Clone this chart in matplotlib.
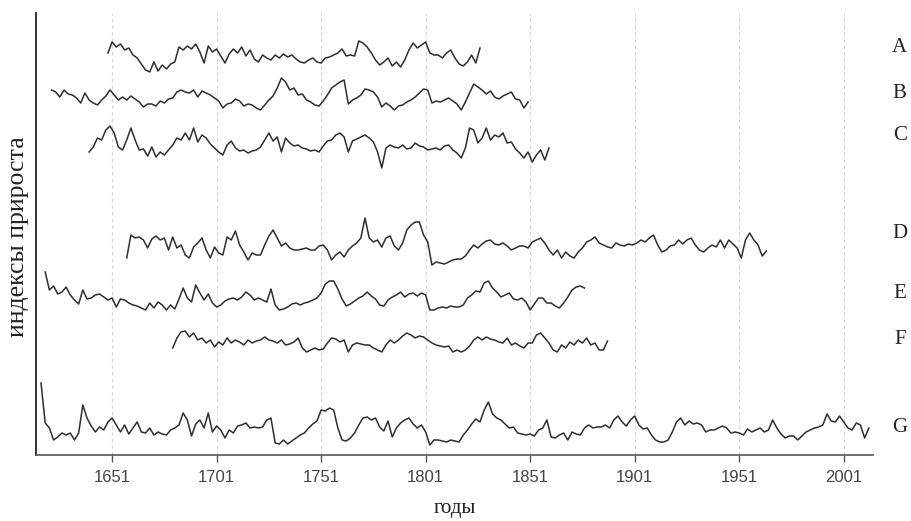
import numpy as np
import matplotlib.pyplot as plt

# ring-width indices (%), one value every second year
a_start = 1649
a_idx = [104, 115, 110, 113, 107, 109, 102, 99, 93, 87, 85, 95, 86, 92, 88, 93, 95, 110,
         107, 111, 108, 113, 105, 94, 111, 105, 108, 101, 94, 103, 108, 104, 110, 101, 107,
         98, 95, 102, 99, 97, 102, 99, 103, 100, 102, 98, 95, 94, 97, 99, 95, 94, 99, 100,
         102, 104, 108, 101, 102, 101, 116, 114, 110, 104, 97, 92, 95, 99, 91, 95, 90, 97,
         107, 114, 109, 112, 115, 104, 102, 102, 99, 104, 107, 99, 93, 91, 95, 102, 94, 109]

b_start = 1622
b_idx = [107, 105, 100, 107, 103, 102, 99, 94, 104, 97, 94, 92, 97, 101, 107, 102, 97, 100,
         97, 101, 98, 95, 90, 93, 93, 91, 96, 94, 98, 99, 105, 107, 105, 104, 107, 100, 106,
         104, 102, 99, 96, 89, 93, 94, 98, 96, 91, 93, 92, 89, 87, 92, 97, 101, 109, 119, 115,
         107, 109, 102, 103, 97, 95, 92, 91, 96, 102, 109, 112, 115, 117, 93, 97, 99, 102, 108,
         107, 105, 100, 90, 94, 91, 87, 91, 92, 95, 97, 100, 104, 108, 107, 94, 96, 95, 97, 99,
         96, 93, 87, 95, 104, 113, 110, 107, 103, 106, 100, 98, 101, 103, 105, 98, 97, 89, 95]

c_start = 1640
c_idx = [93, 98, 107, 105, 115, 119, 112, 98, 95, 105, 117, 105, 95, 96, 89, 98, 88, 93, 90,
         95, 100, 107, 105, 112, 105, 117, 103, 110, 107, 101, 97, 93, 90, 100, 104, 97, 94,
         95, 92, 94, 95, 98, 105, 112, 104, 108, 93, 107, 102, 99, 100, 97, 96, 94, 95, 93, 99,
         104, 105, 110, 112, 108, 93, 104, 106, 108, 110, 107, 103, 93, 77, 97, 100, 98, 97,
         100, 96, 97, 102, 99, 98, 95, 96, 97, 95, 99, 100, 95, 92, 87, 97, 117, 115, 102, 107,
         117, 105, 110, 108, 112, 102, 103, 96, 92, 87, 93, 83, 90, 95, 85, 97]

d_start = 1658
d_idx = [87, 110, 107, 108, 105, 97, 106, 109, 105, 107, 95, 108, 97, 100, 90, 87, 98, 102,
         107, 95, 87, 98, 92, 90, 108, 105, 114, 100, 93, 85, 92, 90, 90, 100, 109, 115, 107,
         99, 102, 97, 95, 95, 96, 97, 95, 95, 99, 100, 95, 85, 90, 93, 88, 95, 99, 102, 107,
         127, 107, 103, 105, 98, 107, 109, 99, 95, 102, 115, 120, 123, 123, 110, 103, 80, 83,
         82, 81, 83, 85, 86, 86, 89, 95, 100, 97, 101, 104, 105, 101, 100, 102, 99, 95, 97, 99,
         99, 97, 103, 105, 107, 102, 95, 90, 95, 87, 93, 89, 87, 93, 97, 103, 105, 108, 102,
         100, 98, 97, 102, 100, 99, 101, 100, 102, 105, 103, 107, 110, 100, 93, 95, 99, 100,
         105, 101, 105, 107, 100, 95, 93, 97, 100, 98, 105, 97, 105, 101, 97, 87, 105, 112, 105,
         100, 89, 94]

e_start = 1619
e_idx = [126, 108, 112, 104, 106, 111, 103, 98, 94, 108, 99, 100, 103, 104, 101, 98, 100, 91,
         99, 98, 95, 93, 92, 90, 88, 95, 90, 96, 93, 88, 93, 89, 99, 110, 100, 96, 113, 105, 98,
         104, 95, 91, 93, 97, 99, 100, 98, 101, 106, 103, 98, 100, 98, 96, 109, 93, 88, 89, 91,
         94, 95, 93, 95, 96, 98, 100, 105, 114, 117, 117, 109, 99, 92, 94, 97, 100, 102, 106,
         102, 99, 93, 92, 98, 101, 103, 106, 101, 104, 105, 102, 105, 103, 88, 88, 90, 91, 90,
         92, 91, 91, 93, 100, 103, 107, 106, 115, 117, 110, 106, 101, 103, 105, 99, 98, 100, 96,
         88, 94, 100, 100, 95, 95, 92, 90, 95, 101, 108, 111, 112, 110]

f_start = 1680
f_idx = [95, 105, 111, 112, 106, 110, 103, 105, 100, 103, 96, 101, 98, 105, 100, 103, 101, 98,
         103, 100, 102, 103, 106, 103, 102, 100, 103, 98, 99, 101, 105, 95, 91, 93, 95, 93, 94,
         100, 105, 104, 101, 103, 91, 98, 100, 99, 98, 98, 95, 93, 91, 98, 103, 100, 103, 107,
         110, 108, 105, 107, 106, 103, 100, 98, 97, 96, 97, 91, 93, 91, 93, 97, 103, 106, 103,
         106, 104, 103, 101, 100, 105, 98, 100, 97, 95, 100, 100, 108, 110, 105, 100, 93, 91, 98,
         95, 101, 98, 103, 100, 105, 98, 100, 93, 93, 102]

g_start = 1617
g_idx = [145, 105, 100, 88, 91, 95, 93, 95, 88, 95, 123, 110, 102, 96, 101, 98, 106, 110, 103,
         96, 103, 94, 100, 106, 96, 95, 100, 93, 96, 94, 93, 98, 100, 103, 115, 108, 92, 104,
         108, 100, 115, 96, 102, 98, 90, 98, 95, 102, 103, 105, 100, 101, 100, 101, 108, 110, 85,
         84, 88, 84, 87, 90, 93, 95, 100, 104, 107, 118, 117, 120, 118, 100, 88, 87, 90, 95, 103,
         110, 111, 108, 110, 101, 97, 107, 91, 100, 105, 108, 110, 104, 100, 103, 96, 83, 88, 88,
         87, 86, 88, 87, 86, 93, 98, 104, 109, 106, 118, 126, 114, 110, 108, 104, 100, 101, 95,
         94, 93, 94, 92, 98, 100, 108, 91, 90, 93, 95, 88, 96, 94, 93, 100, 103, 100, 101, 101,
         103, 100, 108, 112, 106, 102, 108, 112, 103, 99, 100, 93, 88, 86, 86, 88, 96, 106, 110,
         103, 107, 104, 105, 103, 96, 98, 98, 100, 102, 100, 95, 96, 95, 93, 99, 96, 98, 100, 96,
         98, 108, 100, 94, 90, 92, 92, 88, 92, 96, 98, 100, 101, 103, 114, 107, 106, 112, 106,
         100, 98, 105, 103, 90, 100]

names = ['A', 'B', 'C', 'D', 'E', 'F', 'G']
starts = [a_start, b_start, c_start, d_start, e_start, f_start, g_start]
series = [a_idx, b_idx, c_idx, d_idx, e_idx, f_idx, g_idx]

# vertical placement of each curve (axis units are pixels above the x axis)
offsets = [398, 358, 310, 210, 157, 112, 27]
label_y = [407, 362, 320, 222, 162, 115, 27]

fig = plt.figure(figsize=(9.12, 5.21), dpi=100)
ax = fig.add_axes([36 / 912, 66 / 521, 837 / 912, 442 / 521])

for start, vals, off in zip(starts, series, offsets):
    vals = np.array(vals, dtype=float)
    years = start + 2 * np.arange(len(vals))
    ax.plot(years, off + vals - 100, color='#2e2e2e', lw=1.1)

for name, y in zip(names, label_y):
    ax.text(1.032, y, name, transform=ax.get_yaxis_transform(), ha='center', va='center',
            family='Liberation Serif', fontsize=15, color='#222222')

ax.set_xlim(1614.6, 2015)
ax.set_ylim(0, 442)
ax.set_xticks(np.arange(1651, 2002, 50))
ax.set_yticks([])
ax.grid(axis='x', color='#d4d4d4', ls=(0, (3, 3)), lw=0.8)
ax.set_axisbelow(True)

for side in ['top', 'right']:
    ax.spines[side].set_visible(False)
ax.spines['left'].set_color('#222222')
ax.spines['left'].set_linewidth(1.3)
ax.spines['bottom'].set_color('#555555')
ax.spines['bottom'].set_linewidth(1.2)

ax.tick_params(axis='x', length=5, width=1, color='#555555', labelcolor='#444444', pad=6)
for lab in ax.get_xticklabels():
    lab.set_family('Liberation Sans')
    lab.set_fontsize(12)

ax.set_xlabel('годы', family='Liberation Serif', fontsize=15, color='#222222')
ax.xaxis.set_label_coords(0.5, -0.1)
ax.set_ylabel('индексы прироста', family='Liberation Serif', fontsize=18.5, color='#222222')
ax.yaxis.set_label_coords(-0.008, 0.495)

fig.savefig('out.png', dpi=100)
